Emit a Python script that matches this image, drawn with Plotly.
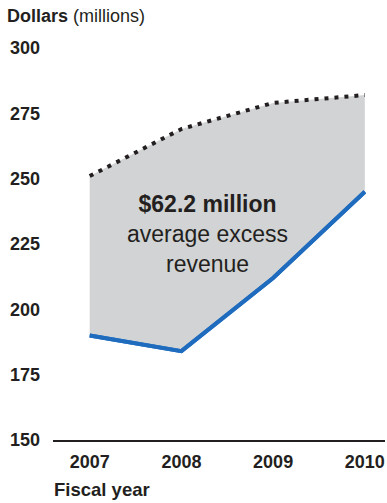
import plotly.graph_objects as go

years = [2007, 2008, 2009, 2010]
year_labels = ["2007", "2008", "2009", "2010"]
upper_vals = [251, 269, 279, 282]
lower_vals = [190, 184, 212, 245]
y_ticks = [150, 175, 200, 225, 250, 275, 300]

FONT = "Liberation Sans, Arial, Helvetica, sans-serif"
TXT = "#231f20"
BLUE = "#1f6cbf"

fig = go.Figure()
fig.add_trace(go.Scatter(
    x=years, y=lower_vals, mode="lines",
    line=dict(color=BLUE, width=4),
    hoverinfo="skip", showlegend=False,
))
fig.add_trace(go.Scatter(
    x=years, y=upper_vals, mode="lines",
    line=dict(color=TXT, width=4, dash="4px,6px"),
    fill="tonexty", fillcolor="#d1d3d4",
    hoverinfo="skip", showlegend=False,
))
fig.add_trace(go.Scatter(
    x=years, y=lower_vals, mode="lines",
    line=dict(color=BLUE, width=4),
    hoverinfo="skip", showlegend=False,
))

fig.update_layout(
    width=387, height=503,
    margin=dict(l=53, r=2, t=48, b=63),
    paper_bgcolor="white", plot_bgcolor="white",
    font=dict(family=FONT, color=TXT),
    title=dict(
        text="<b>Dollars</b> (millions)",
        xref="container", yref="container",
        x=7/387, y=1 - 16/503, xanchor="left", yanchor="middle",
        font=dict(family=FONT, size=18, color=TXT),
    ),
    xaxis=dict(
        range=[2006.6, 2010.22],
        tickvals=years, ticktext=year_labels,
        showgrid=False, zeroline=False,
        showline=True, linecolor=TXT, linewidth=2,
        ticks="", ticklabelstandoff=4,
        tickfont=dict(family=FONT, size=18, color=TXT, weight="bold"),
    ),
    yaxis=dict(
        range=[150, 300],
        tickvals=y_ticks,
        showgrid=False, zeroline=False, showline=False,
        ticks="", ticklabelstandoff=12,
        tickfont=dict(family=FONT, size=18, color=TXT, weight="bold"),
    ),
    annotations=[
        dict(
            x=2008.29, y=228.8, xref="x", yref="y",
            text="<b>$62.2 million</b><br>average excess<br>revenue",
            showarrow=False, align="center",
            font=dict(family=FONT, size=23, color=TXT),
        ),
        dict(
            x=(52 - 53)/332, y=-(489 - 440)/392, xref="paper", yref="paper",
            xanchor="left", yanchor="middle",
            text="<b>Fiscal year</b>", showarrow=False,
            font=dict(family=FONT, size=18.5, color=TXT),
        ),
    ],
)

fig.write_html(
    "out.html",
    config={"displayModeBar": False},
    post_script="document.body.style.margin='0';document.body.style.padding='0';",
)
